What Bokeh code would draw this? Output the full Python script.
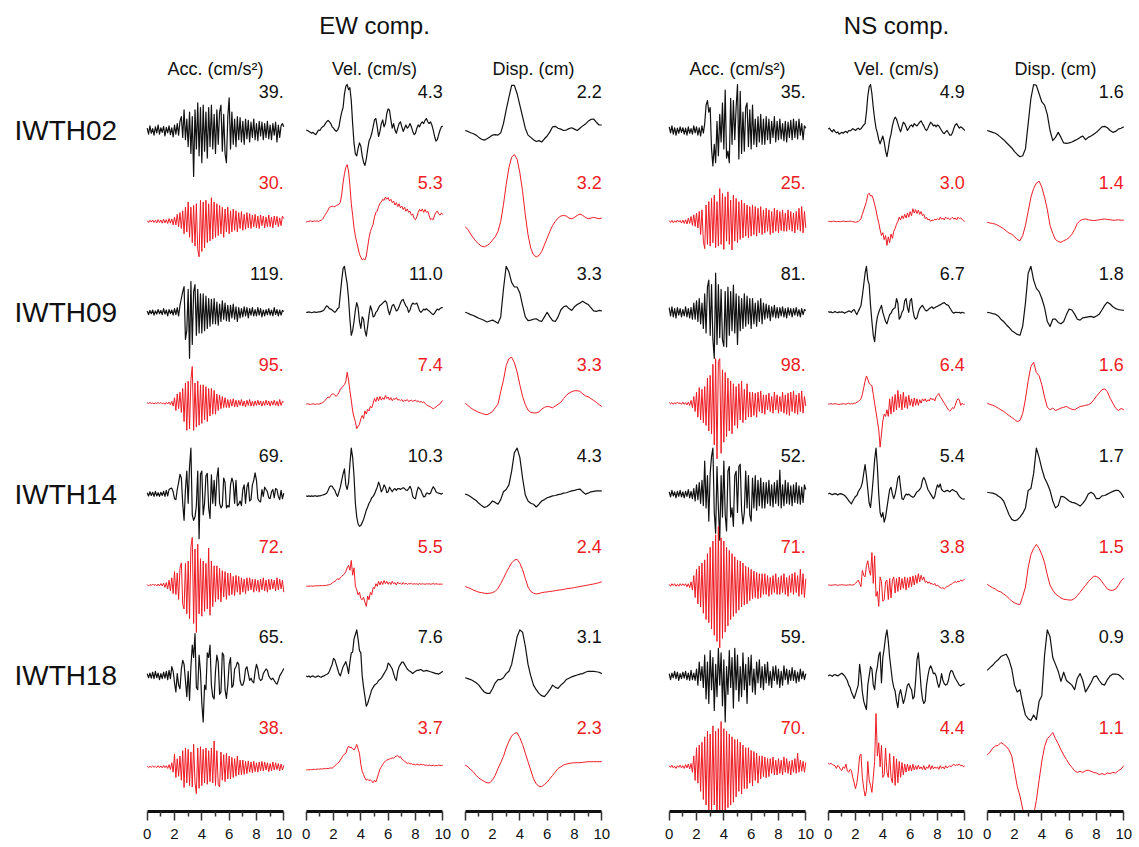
import numpy as np
from bokeh.plotting import figure
from bokeh.layouts import row
from bokeh.models import Range1d, LinearAxis, FixedTicker, Spacer
from bokeh.core.properties import value
from bokeh.embed import file_html
from bokeh.resources import INLINE

# ---------------- data (traces in % of each trace's own peak, 0-10 s) ----------------
stations = ["IWTH02", "IWTH09", "IWTH14", "IWTH18"]
components = ["EW", "NS"]
component_titles = ["EW comp.", "NS comp."]
quantities = ["acc", "vel", "disp"]
quantity_titles = ["Acc. (cm/s\u00b2)", "Vel. (cm/s)", "Disp. (cm)"]
time_ticks = [0, 2, 4, 6, 8, 10]
time_minor_ticks = [1, 3, 5, 7, 9]

# peak amplitudes (labels), per station
ew_acc_obs_peak = [39, 119, 69, 65]
ew_acc_syn_peak = [30, 95, 72, 38]
ew_vel_obs_peak = [4.3, 11.0, 10.3, 7.6]
ew_vel_syn_peak = [5.3, 7.4, 5.5, 3.7]
ew_disp_obs_peak = [2.2, 3.3, 4.3, 3.1]
ew_disp_syn_peak = [3.2, 3.3, 2.4, 2.3]
ns_acc_obs_peak = [35, 81, 52, 59]
ns_acc_syn_peak = [25, 98, 71, 70]
ns_vel_obs_peak = [4.9, 6.7, 5.4, 3.8]
ns_vel_syn_peak = [3.0, 6.4, 3.8, 4.4]
ns_disp_obs_peak = [1.6, 1.8, 1.7, 0.9]
ns_disp_syn_peak = [1.4, 1.6, 1.5, 1.1]

# ---- IWTH02 ----
iwth02_ew_acc_obs = [5,-8,10,-6,4,-10,8,-5,12,-8,6,-4,9,-12,7,-5,10,-9,6,-14,12,-8,15,-10,20,
    30,-15,45,-20,25,-35,40,-50,30,-100,45,-40,60,-55,50,-70,55,-45,40,-60,50,-35,55,-40,35,-50,
    45,-30,40,55,-45,35,-50,-70,30,71,-40,40,-30,25,-35,30,-20,28,-25,20,-30,25,-18,22,-25,18,
    -15,25,-20,15,-22,20,-12,18,-20,15,-15,20,-18,12,-20,15,-10,18,-25,12,-15,10,15,8]
iwth02_ew_acc_syn = [2,-3,3,-2,4,-3,3,-4,5,-3,4,-5,6,-4,5,-6,8,-5,7,-10,
    12,-10,20,-15,25,-20,30,-35,40,-30, 55,-45,40,-60,45,-70,50,-80,-100,60,
    -85,55,-75,60,-60,50,-55,67,-50,55, -45,50,-40,45,-35,40,-45,35,-30,40,
    -35,30,-30,35,-25,30,-30,25,-20,28, -25,20,-22,25,-18,22,-20,18,-15,20,
    -18,15,-20,18,-12,15,-18,12,-15,18, -15,12,-18,15,-10,14,-15,10,-12,15,8]
iwth02_ew_vel_obs = [1,0,-2,-4,-6,-4,-7,-9,-4,1, 0,5,8,10,15,19,22,19,15,8,
    5,1,-2,1,8,26,40,50,79,96, 100,89,93,65,15,-27,-51,-55,-39,-27,
    -34,-55,-69,-76,-62,-41,-23,-16,-6,8, 23,26,8,-13,-2,15,23,8,15,37,
    47,44,23,5,15,1,-6,5,15,19, 8,-2,5,12,5,8,15,8,-2,-9,
    -6,5,12,8,15,19,15,22,26,19, 15,19,12,1,-13,-23,-20,-9,1,8,10]
iwth02_ew_vel_syn = [-1,0,0,1,0,0,1,0,1,0, 1,2,4,8,12,16,20,25,26,27,
    26,26,28,29,30,34,47,68,84,95, 100,89,63,32,11,-11,-26,-37,-47,-58,
    -63,-68,-66,-68,-61,-45,-29,-18,-11,-5, 8,16,18,26,32,34,39,37,43,39,
    42,36,39,33,36,29,33,26,31,24, 27,21,25,18,22,16,18,11,13,5,
    3,8,16,21,18,22,16,21,16,18, 11,3,5,3,11,16,18,13,11,15,12]
iwth02_ew_disp_obs = [0,-2,-5,-7,-10,-15,-19,-21,-18,-14,-10,-9,-10,-5,15,45,72,98,98,80,
    55,30,5,-10,-15,-20,-24,-22,-25,-18,-12,-3,8,9,5,3,0,1,4,6,3,0,5,10,14,20,24,25,18,12,12]
iwth02_ew_disp_syn = [-8,-12,-19,-25,-30,-34,-37,-38,-36,-33,-28,-23,-15,0,25,55,80,96,100,93,
    73,45,10,-20,-40,-50,-53,-51,-45,-35,-25,-15,-6,0,5,8,9,8,5,4,6,9,11,9,6,4,5,6,5,4,5]
iwth02_ns_acc_obs = [8,-5,10,-8,6,-10,5,-6,8,-4, 6,-8,5,-10,8,-6,4,-8,10,-5,
    8,-10,6,-12,10,-6,15,55,65,40, 50,-40,-77,-30,-70,20,-55,35,-25,60,
    -40,88,-60,-45,-70,70,-30,65,-20,50, 100,-62,85,-50,40,-45,50,60,-35,45,
    -40,55,-30,25,-35,30,-25,35,-30,25, -30,30,-20,25,-28,20,-15,30,-25,20,
    -20,25,-18,15,-22,20,-25,18,-15,22, -20,25,-15,20,-18,25,-10,15,-20,10,5]
iwth02_ns_acc_syn = [2,-3,3,-4,2,-3,4,-2,3,-5, 4,-6,5,-8,10,-6,15,-12,20,-15,
    25,-20,30,-40,35,-60,-83,50,-70,60, -75,70,-65,80,-80,60,-75,100,-70,85,
    -85,75,-60,90,-70,65,-87,80,-60,70, -65,60,-55,65,-50,55,-45,50,-50,45,
    -45,50,-40,45,-45,40,-35,45,-40,35, -35,40,-30,35,-40,30,-35,40,-30,35,
    -35,30,-28,35,-30,25,-30,35,-25,30, -30,25,-35,30,-25,40,-30,45,-35,30,-20]
iwth02_ns_vel_obs = [3,5,0,-3,2,-2,-5,-3,-8,-6, -4,-6,-3,-2,-5,0,-1,1,4,2,
    0,3,5,2,4,8,12,15,40,75, 95,100,80,50,25,5,-5,-20,-29,-20,
    -12,-25,-45,-57,-40,-20,-8,10,22,29, 25,15,5,-3,8,18,15,8,0,5,
    10,12,8,15,12,10,14,18,21,15, 10,3,0,5,12,18,15,10,12,8,
    12,10,5,0,-5,-7,-3,0,-5,-10, -10,-5,5,12,15,10,5,8,6,3,0]
iwth02_ns_vel_syn = [0,0,-1,0,1,0,-1,0,0,-1, 0,1,0,-1,0,0,1,0,-1,-2,
    -3,-2,0,3,10,25,40,55,70,95, 100,90,92,80,60,40,15,-5,-30,-50,
    -40,-65,-50,-85,-55,-75,-45,-60,-35,-25, -10,0,15,5,20,10,25,12,30,15,
    35,20,45,30,42,28,40,25,35,20, 25,10,15,5,8,0,5,3,8,5,
    10,5,15,8,12,5,15,10,12,6, 10,15,8,12,5,15,10,12,8,3,0]
iwth02_ns_disp_obs = [0,-2,-4,-6,-10,-15,-20,-26,-32,-38,-46,-52,-57,-55,-40,15,70,100,98,80,
    62,55,35,0,-22,-15,-4,-15,-27,-28,-27,-25,-22,-19,-15,-12,-20,-15,-12,-8,-4,2,8,9,6,0,-4,-2,3,5,8]
iwth02_ns_disp_syn = [-2,-4,-5,-7,-10,-14,-18,-24,-29,-32,-38,-45,-48,-35,-10,25,60,82,95,100,
    85,60,30,-10,-30,-45,-50,-52,-48,-45,-40,-32,-20,-5,2,5,6,4,3,2,3,4,5,6,5,4,3,3,4,3,3]

# ---- IWTH09 ----
iwth09_ew_acc_obs = [3,-5,4,-3,5,-6,3,-4,6,-3, 4,-5,8,-4,5,-8,6,-3,5,-6,
    8,-5,10,-8,15,30,45,56,-59,-40, 50,-100,67,-70,45,60,-50,50,-45,40,
    -45,40,-40,35,-35,30,-30,28,-25,30, -25,22,-28,18,-20,25,-15,20,-18,15,
    -20,15,-12,18,-15,12,-20,10,-12,8, -10,12,-8,10,-12,8,-6,10,-8,6,
    -8,10,-6,8,-10,5,-8,6,-5,8, -6,5,-8,10,-5,6,-8,5,-6,4,2]
iwth09_ew_acc_syn = [1,-1,2,-1,1,-2,1,-1,2,-1, 2,-2,1,-3,2,-2,3,-4,5,-8,
    15,-20,25,-15,30,-25,40,-50,55,-74, 60,-70,65,100,-74,55,-65,60,-60,50,
    -55,50,-45,45,-50,40,-35,40,-30,35, -30,25,-20,22,-15,18,-12,15,-12,10,
    -12,10,-8,12,-10,8,-10,8,-6,10, -8,6,-10,8,-6,10,-8,5,-8,6,
    -6,8,-5,6,-8,5,-6,8,-5,6, -8,6,-5,8,-6,5,-8,10,-6,5,3]
iwth09_ew_vel_obs = [0,0,1,0,-1,0,1,0,0,1, 1,2,3,5,10,14,12,8,7,5,
    2,0,3,8,10,40,70,95,100,80, 62,30,-15,-50,-40,-20,5,21,10,-20,
    -35,-10,-15,-40,-52,-30,-5,14,5,-10, -8,0,3,10,15,17,20,23,25,20,
    5,-5,5,15,17,10,3,5,12,20, 26,28,20,14,10,0,5,15,20,18,
    18,20,12,3,0,3,7,5,8,5, 3,0,-3,-5,-2,3,7,5,8,10,10]
iwth09_ew_vel_syn = [-3,-2,-3,-4,-3,-2,-3,-4,-2,-3, -2,0,2,5,10,15,20,18,25,30,
    30,26,22,28,35,45,50,55,60,70, 100,75,40,10,-25,-45,-60,-82,-75,-68,
    -50,-40,-50,-25,-35,-20,-25,-10,-15,0, 15,5,20,8,22,10,18,12,25,15,
    20,10,18,8,15,12,18,10,12,8, 12,5,10,8,12,5,8,10,6,8,
    10,5,8,3,6,2,4,0,-5,-8, -10,-12,-15,-18,-15,-12,-8,-5,-2,5,8]
iwth09_ew_disp_obs = [0,-2,-5,-7,-10,-13,-15,-18,-21,-19,-17,-20,-24,-10,50,100,88,65,55,55,
    42,15,-10,-18,-17,-15,-14,-18,-20,-10,0,-10,-18,-20,-10,5,12,14,8,4,12,17,20,24,20,17,10,3,2,4,3]
iwth09_ew_disp_syn = [0,-5,-10,-14,-17,-20,-22,-24,-25,-22,-18,-10,-2,25,50,82,97,100,88,68,
    40,15,-3,-15,-20,-21,-21,-19,-13,-9,-7,-8,-10,-6,-2,2,10,17,22,25,27,27,26,20,16,14,10,6,2,-3,-7]
iwth09_ns_acc_obs = [10,-8,12,-10,8,-12,10,-6,8,-10, 6,-8,12,-10,8,-12,10,-15,20,-15,
    25,-20,30,-25,20,-35,40,-45,55,70, -50,60,-60,-100,85,-70,60,-55,50,-60,
    -74,45,-75,55,-50,45,-40,59,-45,40, -70,35,-40,30,-35,40,-30,35,-25,30,
    -35,30,-25,20,-30,25,-20,30,-25,20, -15,18,-12,15,-18,12,-10,15,-12,10,
    -12,10,-8,12,-10,8,-12,10,-6,8, -10,8,-6,10,-8,6,-10,8,-5,6,4]
iwth09_ns_acc_syn = [1,-1,1,-2,1,-1,2,-1,1,-2, 2,-2,1,-3,2,-4,5,-8,12,-15,
    20,-25,28,-30,25,-35,30,-40,45,-50, 50,-55,70,-75,80,-100,75,80,-90,60,
    -70,55,-60,45,-50,40,-55,35,-40,30, -45,35,-30,40,-35,25,-30,35,-25,20,
    -25,20,-22,18,-25,20,-15,22,-18,15, -20,15,-12,18,-15,12,-18,20,-12,15,
    -18,12,-15,20,-18,15,-20,18,-22,20, -15,22,-18,15,-20,18,-15,22,-18,12,-5]
iwth09_ns_vel_obs = [2,0,1,-1,0,2,0,-1,1,0, 1,0,-2,0,1,3,2,0,4,6,
    0,-5,2,8,15,35,60,85,100,70, 60,15,-20,-50,-64,-30,-10,0,8,15,
    0,-10,-20,-25,-15,-5,-2,5,8,10, 30,20,-15,-10,0,5,25,30,10,0,
    25,30,5,-10,-15,-12,0,8,12,15, 10,5,3,5,8,10,12,8,10,12,
    13,15,16,18,20,21,18,16,15,10, 5,0,-2,0,0,-1,0,-2,0,-1,-2]
iwth09_ns_vel_syn = [-2,-2,-1,-2,-2,-1,-2,-2,-3,-2, -2,-1,-2,-2,-1,0,-2,-1,-2,0,
    0,2,4,6,10,20,35,50,62,55, 45,42,40,20,0,-20,-40,-60,-100,-70,
    -40,-25,-30,-15,-30,10,-25,15,-20,20, -15,29,-10,20,-15,25,-10,15,-12,18,
    -5,10,-8,12,-5,10,-5,8,0,10, 5,10,3,8,5,12,8,10,5,15,
    18,22,15,10,5,0,-5,-10,-15,-18, -15,-10,-12,-5,5,10,8,-5,0,-3,-2]
iwth09_ns_disp_obs = [0,-1,-3,-4,-8,-15,-20,-27,-33,-40,-44,-48,-50,-30,20,85,100,70,52,45,
    30,10,-20,-31,-15,-15,-22,-25,-20,-5,7,5,-4,-15,-17,-12,-11,-10,-9,-11,-8,-4,5,15,22,18,12,8,6,5,4]
iwth09_ns_disp_syn = [0,-3,-5,-8,-12,-16,-20,-25,-30,-35,-40,-45,-42,-25,10,55,90,100,75,67,
    45,15,-10,-16,-12,-18,-15,-12,-10,-8,-12,-15,-16,-12,-8,-7,-5,-4,0,8,17,25,33,35,28,12,0,-12,-18,-13,-16]

# ---- IWTH14 ----
iwth14_ew_acc_obs = [3,-4,5,-3,4,-5,6,-4,3,-5, 4,-3,6,-5,8,-4,10,12,13,5,
    -10,-12,10,25,43,35,-20,-57,10,50, -20,60,100,-45,-57,-50,-25,50,-97,43,
    50,-45,-20,40,45,-30,-53,42,-20,30, -25,35,57,-20,-30,-25,35,25,-30,-25,
    -28,20,35,25,-20,30,-25,-22,-15,-25, 10,20,-20,15,25,-15,-12,20,30,46,
    30,-10,-15,-17,10,-5,15,10,5,-8, -10,5,10,-8,12,10,-5,-12,8,-10,2]
iwth14_ew_acc_syn = [1,-2,1,-1,2,-1,1,-2,2,-2, 3,-2,4,-5,5,-8,10,-12,15,-18,
    28,-20,25,-30,35,46,-40,-50,45,-60, 50,-70,80,99,-80,75,-99,85,-60,55,
    -65,50,-55,45,-50,77,-63,50,-45,40, -35,40,-30,35,-35,30,-25,28,-30,25,
    -22,25,-20,18,-22,20,-15,18,-20,15, -15,12,-18,15,-12,15,-10,12,-15,12,
    -12,10,-15,12,-10,15,-12,10,-15,12, -10,12,-8,10,-12,15,-10,12,-8,10,-15]
iwth14_ew_vel_obs = [-4,-5,-4,-5,-4,-5,-4,-4,-5,-4, -4,-3,-2,-1,0,2,8,15,18,17,
    12,8,0,-5,5,15,30,44,55,20, 10,25,65,100,80,40,-20,-50,-65,-70,
    -68,-62,-55,-45,-35,-28,-20,-15,-8,-5, 0,8,15,26,18,5,10,20,15,3,
    5,15,10,5,10,12,8,12,12,10, 12,14,12,9,8,12,17,10,-5,-9,
    -10,5,15,12,8,0,-6,-5,2,2, 0,2,10,16,12,5,3,2,1,0,2]
iwth14_ew_vel_syn = [-5,-5,-4,-5,-4,-5,-4,-3,-4,-3, -3,-2,-3,-2,-2,-1,0,2,3,8,
    12,15,20,25,22,30,35,40,45,55, 70,80,60,100,40,70,-5,-20,-40,-30,
    -55,-60,-50,-70,-87,-45,-60,-30,-40,-10, -15,5,-5,15,0,15,2,18,5,15,
    3,12,2,15,5,10,0,12,5,8, 2,10,3,8,2,6,4,7,3,5,
    4,5,2,6,3,5,4,3,5,4, 5,3,4,6,3,5,4,3,4,3,4]
iwth14_ew_disp_obs = [0,-2,-6,-10,-14,-20,-25,-29,-27,-22,-15,-18,-22,-12,5,10,20,50,90,100,
    80,35,-2,-15,-20,-22,-28,-22,-15,-12,-8,-6,-4,-3,-1,0,2,3,5,7,8,10,11,5,0,2,5,6,7,7,7]
iwth14_ew_disp_syn = [-6,-10,-14,-20,-24,-28,-30,-32,-33,-32,-30,-25,-13,5,26,48,68,86,97,100,
    85,60,25,-8,-25,-32,-35,-33,-30,-28,-27,-25,-24,-22,-20,-19,-17,-15,-13,-12,-10,-8,-6,-4,-2,0,2,4,6,9,13]
iwth14_ns_acc_obs = [5,-6,8,-4,5,-8,6,-5,8,-6, 5,-8,6,-5,10,-8,6,-10,12,-15,
    20,-12,25,-20,30,-25,72,-30,40,-59, 45,82,100,-40,-85,60,-30,-100,40,-50,
    72,-45,-80,50,60,-50,-30,-70,40,50, -40,60,65,-35,-65,-40,50,-30,40,-45,
    -59,35,-30,40,-35,30,-25,35,-30,25, -30,25,-20,30,-25,20,-28,25,-20,30,
    -25,52,-30,20,-25,30,-20,25,-22,18, -25,20,-18,25,-20,18,-22,15,-18,20,10]
iwth14_ns_acc_syn = [1,-2,2,-1,2,-2,1,-2,2,-1, 2,-1,2,-3,2,-4,5,-8,15,-20,
    25,-30,30,-35,35,-45,40,-55,50,-60, 60,-70,70,-80,80,-90,93,-100,75,-85,
    70,-75,60,-65,55,-55,50,-50,45,-45, 40,-40,38,-35,35,-32,30,-30,28,-25,
    25,-22,22,-20,20,-22,18,-20,18,-15, 18,-15,15,-18,12,-15,15,-12,18,-15,
    12,-15,15,-12,18,-15,12,-18,15,-12, 18,-15,20,-12,15,-18,25,-15,18,-20,10]
iwth14_ns_vel_obs = [0,2,0,-1,0,1,0,-2,0,1, 0,-1,-3,-6,-10,-14,-18,-21,-15,-10,
    -5,-3,5,10,15,25,45,64,40,10, -20,-29,0,35,75,100,60,0,-40,-50,
    -40,-61,-50,-30,-10,10,15,0,-10,0, 15,35,40,15,-10,-12,-5,0,-2,0,
    -3,-5,-7,-5,0,5,7,10,15,30, 36,30,20,10,5,0,-5,-10,-5,10,
    20,15,22,10,7,5,7,8,7,5, 8,10,8,6,5,0,-5,-8,-10,-11,-10]
iwth14_ns_vel_syn = [0,0,-1,0,0,1,0,-1,0,0, 1,0,0,-1,0,0,1,0,0,1,
    5,10,15,5,-5,45,30,25,60,75, 45,30,100,5,90,-35,-20,-66,25,10,
    -50,-45,10,15,-45,20,-40,15,25,-25, 20,-20,25,-15,20,-10,25,-15,22,-8,
    25,-5,28,0,30,5,35,10,30,15, 25,8,12,5,10,3,5,0,5,-3,
    0,-5,-8,-10,-8,-12,-8,-5,-3,0, 2,5,8,10,8,12,10,15,12,15,18]
iwth14_ns_disp_obs = [4,3,2,0,-4,-8,-15,-30,-45,-55,-58,-56,-50,-42,-30,8,12,45,100,80,
    55,35,23,8,-15,-30,-25,-5,-6,-10,-15,-18,-19,-22,-26,-20,-12,0,4,0,-10,-10,-4,-3,0,3,6,8,8,2,-8]
iwth14_ns_disp_syn = [2,-3,-7,-10,-15,-17,-22,-27,-33,-40,-44,-47,-48,-28,-5,43,75,90,100,90,
    75,55,25,0,-13,-22,-27,-32,-35,-36,-37,-37,-33,-26,-18,-9,-1,8,15,22,21,17,8,-1,-10,-13,-13,-10,-1,10,17]

# ---- IWTH18 ----
iwth18_ew_acc_obs = [5,-4,6,-5,8,-6,10,-4,6,-8, 5,-6,8,-5,10,-8,12,-6,20,10,
    -15,-35,5,-20,-28,15,34,25,-10,-45, 10,-53,20,67,40,92,-25,-30,45,10,
    -60,-100,-20,-30,50,40,67,-20,-45,-50, 10,45,30,-40,-35,50,45,-30,-49,-20,
    25,40,-25,-20,15,20,30,25,-10,-20, -20,-10,15,20,5,-10,-5,-12,-15,10,
    25,15,-5,-10,-8,5,10,15,12,0, -5,-8,-5,-10,-15,-18,-10,0,5,10,16]
iwth18_ew_acc_syn = [2,-3,2,-2,3,-2,2,-3,4,-3, 3,-4,5,-3,4,-6,8,-10,15,-20,
    47,-40,30,-35,40,-50,60,-77,70,-60, 65,-70,55,-75,84,-60,-100,70,-80,75,
    -70,65,-60,70,-65,60,-55,70,-60,96, -70,60,-65,-75,55,-50,45,-55,50,-45,
    40,-45,35,-40,30,-35,40,-30,25,-30, 25,-28,20,-25,22,-20,18,-22,20,-18,
    15,-20,18,-15,20,-15,18,-12,15,-18, 12,-15,18,-12,15,-10,12,-15,10,-12,5]
iwth18_ew_vel_obs = [0,-2,0,-3,-1,0,-2,-3,-1,0, -2,-3,-1,0,2,3,5,10,18,25,
    38,35,25,15,5,0,10,20,25,31, 20,5,30,50,52,80,90,100,80,55,
    50,0,-25,-45,-66,-60,-50,-40,-30,-25, -20,-18,-15,-10,-8,-5,0,5,10,15,
    28,25,20,15,5,-5,-10,10,20,25, 30,30,25,20,15,12,10,8,5,8,
    10,12,12,13,14,12,10,11,12,11, 10,9,8,7,6,5,5,4,6,8,10]
iwth18_ew_vel_syn = [-14,-13,-14,-12,-13,-12,-11,-12,-10,-11, -10,-9,-10,-8,-9,-7,-8,-6,-5,-6,
    -2,5,10,15,20,30,40,50,57,60, 80,93,85,88,80,75,85,100,80,60,
    10,-20,-35,-50,-60,-55,-62,-58,-65,-71, -60,-68,-50,-30,-10,0,10,20,25,30,
    32,35,37,40,38,45,48,50,42,46, 35,30,25,20,15,18,12,15,10,12,
    8,12,10,8,12,9,10,6,8,5, 8,6,5,7,4,6,5,8,6,5,7]
iwth18_ew_disp_obs = [-4,-6,-8,-11,-15,-20,-28,-35,-38,-38,-28,-15,-8,-8,-4,5,10,25,55,85,
    100,95,65,25,0,-20,-30,-38,-43,-45,-38,-30,-20,-25,-27,-20,-15,-8,-5,-2,0,2,4,5,8,10,10,10,9,8,5]
iwth18_ew_disp_syn = [5,0,-8,-15,-25,-33,-38,-43,-47,-47,-38,-25,-5,12,30,55,75,90,98,100,
    85,65,40,15,-10,-35,-50,-57,-58,-52,-45,-35,-25,-15,-5,0,5,8,10,11,12,12,12,13,14,15,15,15,15,15,15]
iwth18_ns_acc_obs = [5,-8,6,-4,10,-6,8,-10,5,-6, 8,-5,10,-8,6,-10,12,-8,6,-10,
    15,-20,30,-10,20,-25,45,-50,30,-60, 55,-30,40,-75,25,-45,60,-20,50,-65,
    35,-100,20,-40,55,-25,40,-70,60,-30, 45,-55,20,-45,50,-30,25,-60,40,-20,
    45,-35,15,-40,30,-15,35,-25,20,-30, 25,-15,30,-20,10,-25,20,-10,22,-18,
    15,-25,10,-20,22,-8,15,-18,12,-10, 18,-10,12,-15,8,-12,15,-6,10,-8,5]
iwth18_ns_acc_syn = [2,-1,3,-2,1,-3,2,-1,3,-2, 2,-3,4,-2,5,-4,6,-10,20,-25,
    35,-30,40,-45,45,-60,55,-70,65,-80, 60,-85,75,-70,65,-100,70,-90,83,-95,
    70,-100,65,-75,60,-70,55,-65,50,-55, 50,-45,45,-50,40,-40,35,-40,35,-30,
    30,-35,28,-25,25,-30,20,-22,20,-18, 18,-20,15,-18,15,-12,18,-15,12,-15,
    15,-12,12,-15,18,-10,15,-12,10,-15, 12,-10,15,-12,25,-10,12,-8,10,-10,8]
iwth18_ns_vel_obs = [0,2,1,-1,2,3,1,0,2,4, 6,3,0,-5,-10,-20,-25,-35,-42,-49,
    -40,-30,-20,25,0,-35,-55,-65,-73,-20, 0,20,15,-20,-30,5,20,45,52,-15,
    40,60,85,100,75,40,15,-10,-25,-33, -55,-69,-40,-30,-45,-60,-50,-35,-20,-17,
    -25,-30,-50,-45,-10,35,50,15,-25,-50, -60,-55,-20,0,15,22,15,5,6,0,
    -15,-25,-15,5,-10,-17,-20,-18,-10,5, 12,10,2,-5,-10,-15,-20,-22,-20,-18,-17]
iwth18_ns_vel_syn = [7,5,7,4,3,2,-3,3,0,-5, -7,0,-3,5,-8,-10,-5,-7,-20,-30,
    -41,-30,-10,20,24,-20,-40,-55,-45,10, -25,-35,-48,-20,10,100,20,45,0,40,
    -20,-15,35,-10,-20,25,-20,-30,20,-35, 15,-30,10,-20,8,-15,5,-10,5,-8,
    3,-8,5,-6,2,-5,3,-4,0,-5, 2,-6,0,-3,4,-5,2,-4,0,-3,
    0,-5,2,-3,0,-4,2,-2,0,2, 0,3,5,2,4,3,5,2,3,0,2]
iwth18_ns_disp_obs = [12,18,23,30,35,42,45,47,35,15,-20,-35,-30,-60,-85,-93,-97,-85,-95,-55,
    -43,45,100,85,40,25,10,-12,8,-10,-15,-20,-30,-5,5,-10,-35,-25,-15,-2,0,-10,-18,-20,-8,0,4,4,3,-2,-8]
iwth18_ns_disp_syn = [21,26,33,37,38,43,40,36,30,19,-7,-35,-52,-75,-92,-100,-97,-86,-60,-24,
    10,36,50,55,61,50,41,30,21,13,5,-1,-7,-10,-8,-10,-7,-6,-8,-10,-11,-14,-12,-14,-11,-12,-10,-11,-7,-4,2]

# ---------------- layout / style ----------------
FONT = "Liberation Sans"
BLACK = "#111111"
RED = "#ee1c24"
TOP = 0            # page y of frame top
FH = 811           # frame height (axis line at the bottom)
ROW0 = 130.0       # page y of first trace zero line
ROW_STEP = 90.9
PX_OBS = 46.0      # pixels for the observed peak
PANEL_W = 159
X0, X1 = -0.783, 10.857

data = globals()


def fmt(q, v):
    return f"{int(round(v))}." if q == "acc" else f"{v:.1f}"


def make_panel(ci, qi):
    comp = components[ci].lower()
    q = quantities[qi]
    p = figure(frame_width=PANEL_W, frame_height=FH,
               x_range=Range1d(X0, X1), y_range=Range1d(TOP + FH, TOP),
               output_backend="svg", toolbar_location=None,
               x_axis_type=None, y_axis_type=None, min_border=0,
               outline_line_color=None, background_fill_color=None,
               border_fill_color=None)
    obs_peaks = data[f"{comp}_{q}_obs_peak"]
    syn_peaks = data[f"{comp}_{q}_syn_peak"]
    for si, st in enumerate(stations):
        scale = PX_OBS / obs_peaks[si]
        for k, kind in enumerate(["obs", "syn"]):
            pct = np.array(data[f"{st.lower()}_{comp}_{q}_{kind}"], dtype=float)
            peak = (obs_peaks if kind == "obs" else syn_peaks)[si]
            t = np.linspace(0, 10, len(pct))
            base = ROW0 + (2 * si + k) * ROW_STEP
            y = base - pct / 100.0 * peak * scale
            col = BLACK if kind == "obs" else RED
            p.line(t, y, line_color=col, line_width=1.2 if kind == "obs" else 1.0,
                   line_join="round")
            p.text(x=[10], y=[base - 39], text=[fmt(q, peak)],
                   text_font=value(FONT), text_font_size=value("18px"),
                   text_align="right", text_baseline="middle", text_color=col)
    # column header
    p.text(x=[5], y=[68], text=[quantity_titles[qi]], text_font=value(FONT),
           text_font_size=value("18px"), text_align="center",
           text_baseline="middle", text_color=BLACK)
    if qi == 1:
        p.text(x=[5], y=[25], text=[component_titles[ci]], text_font=value(FONT),
               text_font_size=value("24px"), text_align="center",
               text_baseline="middle", text_color=BLACK)
    ax = LinearAxis(ticker=FixedTicker(ticks=time_ticks, minor_ticks=time_minor_ticks))
    ax.bounds = (0, 10)
    ax.axis_line_width = 3
    ax.axis_line_color = "#111111"
    ax.major_tick_in = 0
    ax.major_tick_out = 9
    ax.minor_tick_in = 0
    ax.minor_tick_out = 5
    ax.major_tick_line_color = "#333333"
    ax.minor_tick_line_color = "#333333"
    ax.major_tick_line_width = 1.5
    ax.minor_tick_line_width = 1.5
    ax.major_label_standoff = 8
    ax.major_label_text_font = FONT
    ax.major_label_text_font_size = "15px"
    ax.major_label_text_color = "#111111"
    p.add_layout(ax, "below")
    return p


# row labels
lab = figure(frame_width=136, frame_height=FH, x_range=Range1d(0, 136),
             y_range=Range1d(TOP + FH, TOP), output_backend="svg",
             toolbar_location=None, x_axis_type=None, y_axis_type=None,
             min_border=0, outline_line_color=None)
lab.text(x=[14] * len(stations), y=[ROW0 + 2 * i * ROW_STEP for i in range(len(stations))],
         text=stations, text_font=value(FONT), text_font_size=value("28px"),
         text_align="left", text_baseline="middle", text_color=BLACK)

panels = [lab]
for ci in range(2):
    if ci == 1:
        panels.append(Spacer(width=45, height=10))
    for qi in range(3):
        panels.append(make_panel(ci, qi))

layout = row(*panels)
open("out.html", "w").write(file_html(layout, INLINE))
